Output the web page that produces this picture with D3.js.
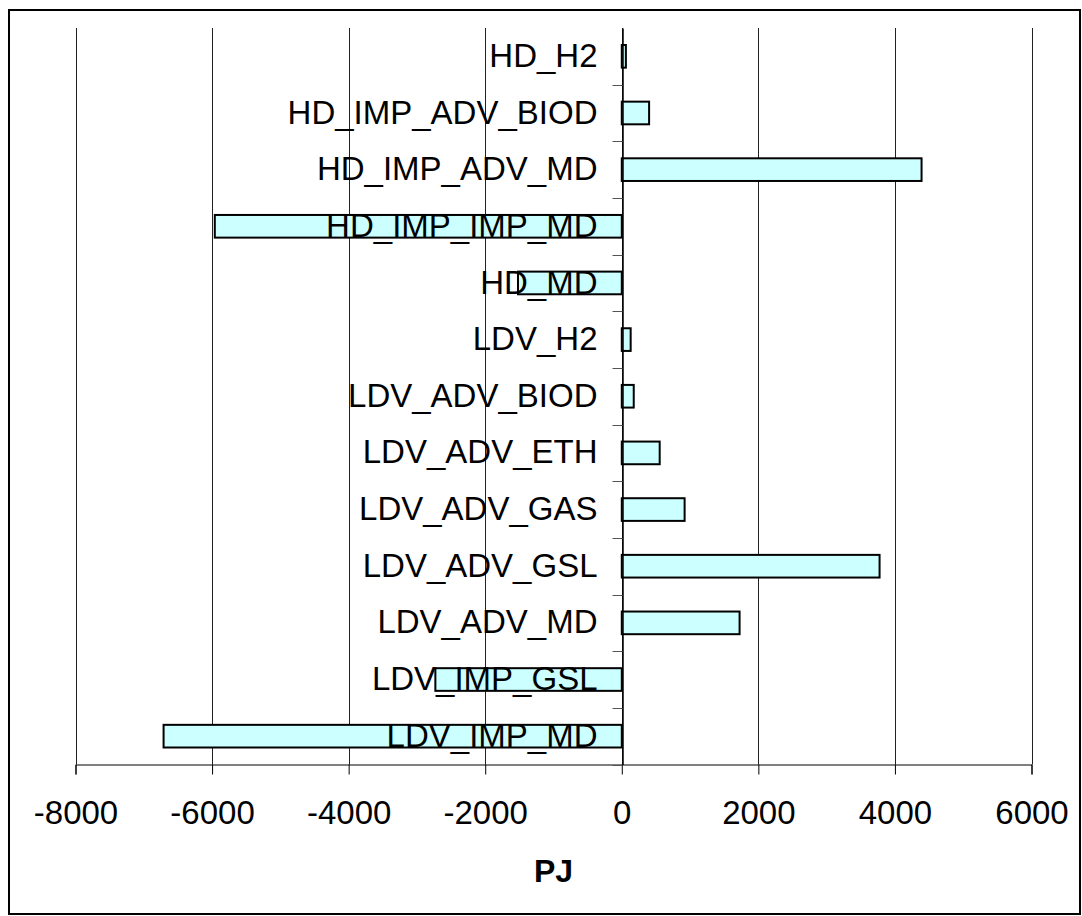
<!DOCTYPE html>
<html><head><meta charset="utf-8">
<script src="https://cdn.jsdelivr.net/npm/d3@7"></script>
<style>body{margin:0;background:#fff}svg{display:block}text{font-family:"Liberation Sans",Arial,sans-serif}</style>
</head><body>
<script>
const categories = ["HD_H2","HD_IMP_ADV_BIOD","HD_IMP_ADV_MD","HD_IMP_IMP_MD","HD_MD","LDV_H2","LDV_ADV_BIOD","LDV_ADV_ETH","LDV_ADV_GAS","LDV_ADV_GSL","LDV_ADV_MD","LDV_IMP_GSL","LDV_IMP_MD"];
const values = [60, 400, 4390, -5960, -1520, 130, 175, 555, 920, 3775, 1725, -2730, -6710];
const xTicks = [-8000,-6000,-4000,-2000,0,2000,4000,6000];
const axisTitle = "PJ";

(function(){
const W=1082,H=916;
const svg=d3.select("body").append("svg").attr("width",W).attr("height",H);
svg.append("rect").attr("x",9).attr("y",10).attr("width",1071).attr("height",904)
  .attr("fill","#fff").attr("stroke","#000").attr("stroke-width",2);

const pL=75.5,pR=1031.5,pT=28,pB=764.5;
const x=d3.scaleLinear().domain([-8000,6000]).range([pL,pR]);
const y=d3.scaleBand().domain(categories).range([pT,pB]).paddingInner(0).paddingOuter(0);
const g=svg.append("g");

g.selectAll("line.grid").data(xTicks).join("line").attr("class","grid")
  .attr("x1",d=>Math.round(x(d))+0.5).attr("x2",d=>Math.round(x(d))+0.5)
  .attr("y1",pT).attr("y2",pB).attr("stroke","#222").attr("stroke-width",1);

const xa=g.append("g").attr("transform",`translate(0,${pB})`)
  .call(d3.axisBottom(x).tickValues(xTicks).tickSize(10).tickPadding(26).tickFormat(d=>String(d)));
xa.select(".domain").attr("stroke","#000");
xa.selectAll("line").attr("stroke","#000");
xa.selectAll("text").attr("font-size",33).attr("fill","#000").attr("font-family","Liberation Sans, Arial, sans-serif");

const bh=y.bandwidth()*0.40;
g.selectAll("rect.bar").data(categories).join("rect").attr("class","bar")
  .attr("x",(d,i)=>x(Math.min(0,values[i])))
  .attr("width",(d,i)=>Math.abs(x(values[i])-x(0)))
  .attr("y",d=>y(d)+y.bandwidth()/2-bh/2).attr("height",bh)
  .attr("fill","#ccffff").attr("stroke","#000").attr("stroke-width",2);

const x0=Math.round(x(0))+0.5;
const ya=g.append("g").attr("transform",`translate(${x0},0)`)
  .call(d3.axisLeft(y).tickSize(0).tickPadding(25));
ya.select(".domain").attr("stroke","#000").attr("stroke-width",1.5);
ya.selectAll("text").attr("font-size",33).attr("fill","#000").attr("font-family","Liberation Sans, Arial, sans-serif");
const bounds=categories.map(c=>y(c)).slice(1).concat([pB]);
g.selectAll("line.ct").data(bounds).join("line").attr("class","ct")
  .attr("x1",x0-10).attr("x2",x0).attr("y1",d=>Math.round(d)+0.5).attr("y2",d=>Math.round(d)+0.5).attr("stroke","#555");

svg.append("text").attr("x",(pL+pR)/2).attr("y",882).attr("text-anchor","middle")
  .attr("font-size",32).attr("font-weight","bold").text(axisTitle);
})();
</script>
</body></html>
